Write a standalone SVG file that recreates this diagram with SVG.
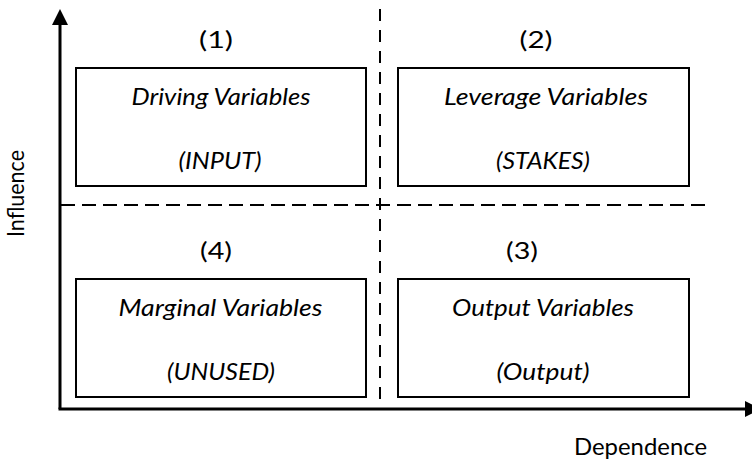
<svg xmlns="http://www.w3.org/2000/svg" width="752" height="462" viewBox="0 0 752 462">
  <style>
    .box { fill: #ffffff; stroke: #000000; stroke-width: 2; }
    .t { font-family: "Lato", "Open Sans", "Liberation Sans", sans-serif; font-size: 24px; fill: #000000; text-anchor: middle; }
    .i { font-style: italic; }
    .axis { stroke: #000000; stroke-width: 3; fill: none; }
    .dashh { stroke: #000000; stroke-width: 2; stroke-dasharray: 14 7; fill: none; }
    .dashv { stroke: #000000; stroke-width: 2; stroke-dasharray: 12 9; fill: none; }
  </style>
  <rect width="752" height="462" fill="#ffffff"/>

  <g id="dividers">
    <line class="dashv" x1="380" y1="9" x2="380" y2="408"/>
    <line class="dashh" x1="61" y1="205" x2="705" y2="205"/>
  </g>

  <g id="q1">
    <text class="t" x="216" y="48" textLength="34" lengthAdjust="spacingAndGlyphs">(1)</text>
    <rect class="box" x="76" y="68" width="290" height="118"/>
    <text class="t i" x="221" y="105" textLength="179" lengthAdjust="spacingAndGlyphs">Driving Variables</text>
    <text class="t i" x="220" y="169" textLength="83" lengthAdjust="spacingAndGlyphs">(INPUT)</text>
  </g>

  <g id="q2">
    <text class="t" x="536" y="48" textLength="33" lengthAdjust="spacingAndGlyphs">(2)</text>
    <rect class="box" x="398" y="68" width="291" height="118"/>
    <text class="t i" x="546" y="105" textLength="204" lengthAdjust="spacingAndGlyphs">Leverage Variables</text>
    <text class="t i" x="543" y="169" textLength="94" lengthAdjust="spacingAndGlyphs">(STAKES)</text>
  </g>

  <g id="q4">
    <text class="t" x="216" y="259" textLength="32" lengthAdjust="spacingAndGlyphs">(4)</text>
    <rect class="box" x="76" y="279" width="290" height="118"/>
    <text class="t i" x="220.5" y="316" textLength="204" lengthAdjust="spacingAndGlyphs">Marginal Variables</text>
    <text class="t i" x="221" y="380" textLength="108" lengthAdjust="spacingAndGlyphs">(UNUSED)</text>
  </g>

  <g id="q3">
    <text class="t" x="522" y="259" textLength="32" lengthAdjust="spacingAndGlyphs">(3)</text>
    <rect class="box" x="398" y="279" width="291" height="118"/>
    <text class="t i" x="543" y="316" textLength="182" lengthAdjust="spacingAndGlyphs">Output Variables</text>
    <text class="t i" x="543" y="380" textLength="93" lengthAdjust="spacingAndGlyphs">(Output)</text>
  </g>

  <g id="connectors">
    <line class="axis" x1="60" y1="409" x2="60" y2="22"/>
    <polygon points="60,9 52,25 68,25" fill="#000000"/>
    <line class="axis" x1="58.5" y1="409" x2="748" y2="409"/>
    <polygon points="745,401 761,409 745,417" fill="#000000"/>
  </g>

  <g id="axis-labels">
    <text class="t" x="640.5" y="455" textLength="133" lengthAdjust="spacingAndGlyphs">Dependence</text>
    <text class="t" transform="translate(24,193.5) rotate(-90)" x="0" y="0" textLength="87" lengthAdjust="spacingAndGlyphs">Influence</text>
  </g>
</svg>
